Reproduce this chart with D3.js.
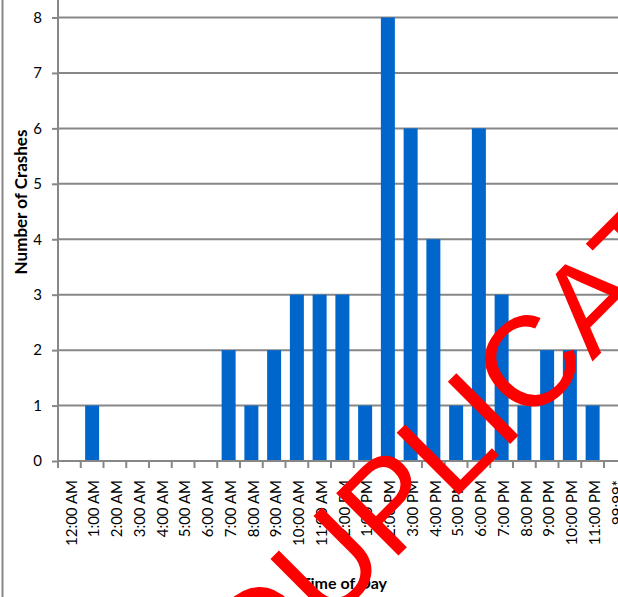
<!DOCTYPE html>
<html>
<head>
<meta charset="utf-8">
<script src="https://cdn.jsdelivr.net/npm/d3@7"></script>
<style>
  html, body { margin: 0; padding: 0; background: #fff; }
  svg { display: block; }
</style>
</head>
<body>
<svg id="chart" width="618" height="597"></svg>
<script>
// Crashes by hour of the day
const hours = ["12:00 AM", "1:00 AM", "2:00 AM", "3:00 AM", "4:00 AM", "5:00 AM", "6:00 AM",
  "7:00 AM", "8:00 AM", "9:00 AM", "10:00 AM", "11:00 AM", "12:00 PM", "1:00 PM", "2:00 PM",
  "3:00 PM", "4:00 PM", "5:00 PM", "6:00 PM", "7:00 PM", "8:00 PM", "9:00 PM", "10:00 PM",
  "11:00 PM", "99:99*"];
const crashes = [0, 1, 0, 0, 0, 0, 0, 2, 1, 2, 3, 3, 3, 1, 8, 6, 4, 1, 6, 3, 1, 2, 2, 1, 0];
const yTicks = [0, 1, 2, 3, 4, 5, 6, 7, 8];
const yTitle = "Number of Crashes";
const xTitle = "Time of Day";
const stamp = "DUPLICATE";

const W = 618, H = 597;
const plot = { left: 58, right: 626.75, top: 17.5, bottom: 461 };
const gray = "#878787";
const font = "Lato, 'Open Sans', sans-serif";

const svg = d3.select("#chart");

const x = d3.scaleBand()
  .domain(hours)
  .range([plot.left, plot.right])
  .paddingInner(0.385)
  .paddingOuter(0.1925);
const y = d3.scaleLinear().domain([0, 8]).range([plot.bottom, plot.top]);
const gap = x.step() * x.paddingInner() / 2;

// frame line on the left
svg.append("line")
  .attr("x1", 2.5).attr("x2", 2.5).attr("y1", 0).attr("y2", H)
  .attr("stroke", gray).attr("stroke-width", 2);

// horizontal gridlines
svg.append("g").selectAll("line")
  .data(yTicks.filter(d => d > 0))
  .join("line")
  .attr("x1", plot.left).attr("x2", W)
  .attr("y1", d => y(d)).attr("y2", d => y(d))
  .attr("stroke", gray).attr("stroke-width", 2);

// y axis
const yAxis = svg.append("g")
  .attr("transform", `translate(${plot.left},0)`)
  .call(d3.axisLeft(y).tickValues(yTicks).tickSize(6).tickPadding(10).tickFormat(d3.format("d")));
yAxis.select(".domain").remove();
yAxis.selectAll(".tick line").attr("stroke", gray).attr("stroke-width", 2);
yAxis.selectAll(".tick text")
  .attr("fill", "#000").style("font-family", font).style("font-size", "15px");
svg.append("line")
  .attr("x1", plot.left).attr("x2", plot.left).attr("y1", 0).attr("y2", plot.bottom + 1)
  .attr("stroke", gray).attr("stroke-width", 2);

// bars
svg.append("g").selectAll("rect")
  .data(hours.map((h, i) => ({ h, v: crashes[i] })))
  .join("rect")
  .attr("x", d => x(d.h))
  .attr("width", x.bandwidth())
  .attr("y", d => y(d.v))
  .attr("height", d => y(0) - y(d.v))
  .attr("fill", "#0066CC");

// x axis line and boundary ticks
svg.append("line")
  .attr("x1", plot.left).attr("x2", W).attr("y1", plot.bottom).attr("y2", plot.bottom)
  .attr("stroke", gray).attr("stroke-width", 2);
svg.append("g").selectAll("line")
  .data(hours)
  .join("line")
  .attr("x1", d => x(d) - gap).attr("x2", d => x(d) - gap)
  .attr("y1", plot.bottom).attr("y2", plot.bottom + 7)
  .attr("stroke", gray).attr("stroke-width", 2);

// category labels, rotated
svg.append("g").selectAll("text")
  .data(hours)
  .join("text")
  .attr("transform", d => `translate(${x(d) + x.bandwidth() / 2 + 2},480) rotate(-90)`)
  .attr("text-anchor", "end")
  .attr("dy", "0.35em")
  .style("font-family", font).style("font-size", "15px")
  .attr("fill", "#000")
  .text(d => d);

// axis titles
svg.append("text")
  .attr("transform", "translate(27,202) rotate(-90)")
  .attr("text-anchor", "middle")
  .style("font-family", font).style("font-size", "17px").style("font-weight", "bold")
  .text(yTitle);
svg.append("text")
  .attr("x", 344).attr("y", 589)
  .attr("text-anchor", "middle")
  .style("font-family", font).style("font-size", "16px").style("font-weight", "bold")
  .text(xTitle);

// red stamp across the chart
svg.append("text")
  .attr("transform", "translate(511,443) rotate(-45)")
  .attr("text-anchor", "middle")
  .style("font-family", "'Liberation Sans', Arial, sans-serif")
  .style("font-size", "128px")
  .attr("fill", "#FF0000")
  .text(stamp);
</script>
</body>
</html>
